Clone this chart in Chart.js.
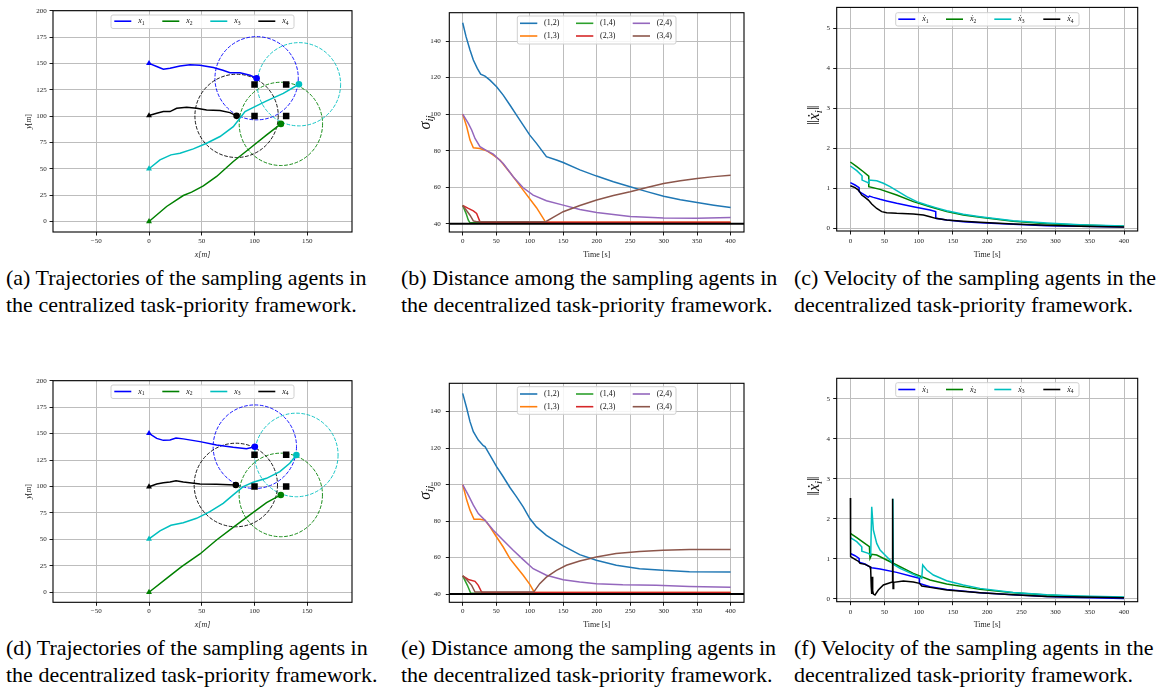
<!DOCTYPE html>
<html lang="en">
<head>
<meta charset="UTF-8">
<title>Sampling agents</title>
<script src="https://cdn.jsdelivr.net/npm/chart.js"></script>
<style>
  body { margin: 0; background: #fff; }
  .quadro { position: absolute; left: 0; top: 0; width: 1163px; height: 694px; overflow: hidden; background: #fff; }
  canvas { position: absolute; }
  .legenda { position: absolute; font-family: "Liberation Serif", "Times New Roman", serif; font-size: 22px; line-height: 26.5px; color: #000; white-space: nowrap; }
</style>
</head>
<body>
<div class="quadro">
  <canvas id="graf_a" width="390" height="262" style="left:0px;top:0px"></canvas>
  <canvas id="graf_b" width="390" height="262" style="left:390px;top:0px"></canvas>
  <canvas id="graf_c" width="383" height="262" style="left:780px;top:0px"></canvas>
  <canvas id="graf_d" width="390" height="262" style="left:0px;top:370px"></canvas>
  <canvas id="graf_e" width="390" height="262" style="left:390px;top:370px"></canvas>
  <canvas id="graf_f" width="383" height="262" style="left:780px;top:370px"></canvas>

  <div class="legenda" style="left:6px;top:265px">(a) Trajectories of the sampling agents in<br>the centralized task-priority framework.</div>
  <div class="legenda" style="left:401px;top:265px">(b) Distance among the sampling agents in<br>the decentralized task-priority framework.</div>
  <div class="legenda" style="left:794px;top:265px">(c) Velocity of the sampling agents in the<br>decentralized task-priority framework.</div>
  <div class="legenda" style="left:6px;top:635px">(d) Trajectories of the sampling agents in<br>the decentralized task-priority framework.</div>
  <div class="legenda" style="left:401px;top:635px">(e) Distance among the sampling agents in<br>the decentralized task-priority framework.</div>
  <div class="legenda" style="left:794px;top:635px">(f) Velocity of the sampling agents in the<br>decentralized task-priority framework.</div>
</div>

<script>
// ---- (a) trajetorias, framework centralizado ----
const a1x = [0, 7.3, 13.6, 19.9, 29.4, 38.8, 48.3, 61, 70, 76.7, 86.2, 95.7, 102];
const a1y = [150, 147, 144.4, 145.3, 147.5, 148.8, 148.2, 146, 143.5, 141.2, 141.2, 138.7, 135.9];
const a2x = [0, 16.7, 32.5, 40.4, 51.5, 64.1, 79.9, 95.7, 111.5, 125];
const a2y = [0, 14.2, 24.6, 27.8, 33.8, 42.7, 56.9, 69.5, 82.1, 92.6];
const a3x = [0, 10.4, 20.8, 29.4, 42, 54.6, 67.3, 79.9, 91, 100.4, 111.5, 127.3, 142.1];
const a3y = [50, 58.5, 63.2, 64.8, 68.9, 74.2, 80.6, 90, 104.3, 109, 114.4, 121.6, 130.2];
const a4x = [0, 7.3, 13.6, 19.9, 26.2, 35.7, 45.2, 54.6, 67.3, 76.7, 83];
const a4y = [100.5, 102.7, 104.3, 104.3, 107.4, 108.4, 107.4, 105.8, 105.2, 103.3, 100.2];

// ---- (d) trajetorias, framework descentralizado ----
const d1x = [0, 7.3, 13.6, 19.9, 25.6, 32.5, 48.3, 64, 79.8, 92.4, 100.3];
const d1y = [150.2, 145.5, 143.6, 144, 145.8, 145, 142.4, 139.2, 137, 135.7, 137.6];
const d2x = [0, 16.7, 30.9, 48.3, 64, 79.8, 95.6, 111.4, 124.9];
const d2y = [0, 13.2, 24.3, 36.2, 49.4, 61.4, 73.1, 84.7, 92];
const d3x = [0, 10.4, 20.8, 32.5, 45.1, 57.7, 70.3, 79.8, 89.3, 98.7, 111.4, 124, 133.4, 139.7];
const d3y = [50.4, 58, 63.3, 65.8, 69.9, 76.2, 84.1, 92, 99.8, 104, 107.7, 114, 121.9, 129.8];
const d4x = [0, 7.3, 13.6, 19.9, 25.6, 32.5, 48.3, 64, 82.3];
const d4y = [99.8, 102.4, 103.6, 104.3, 105.5, 104.3, 102.4, 102, 101.4];

const alvosX = [100, 130, 100, 130];
const alvosY = [130, 130, 100, 100];
const raioSensor = 39.5;

// ---- (b) distancias, sigma_ij ----
const b12t = [0, 5, 10.9, 15.9, 21.8, 26.8, 33.3, 40.7, 50.6, 60.5, 70.5, 80.4, 90.3, 100.2, 110.2, 125, 140, 150, 175, 200, 225, 250, 275, 300, 325, 350, 375, 400];
const b12v = [150, 142.4, 135.1, 129.6, 125, 121.9, 120.8, 118.6, 115, 110.4, 105, 99.5, 94, 88.5, 84, 76.7, 74.9, 73.5, 69.5, 66.1, 63, 60.3, 57.6, 55.1, 53.2, 51.7, 50.2, 48.9];
const b13t = [0, 6, 10.9, 15.9, 25.8, 35.7, 45.7, 55.6, 70.5, 90.3, 110.2, 122.6, 124, 400];
const b13v = [100, 93.1, 85.8, 81.6, 81.2, 80, 77.6, 74.9, 68.1, 58.4, 48.8, 41.6, 40.9, 40.9];
const b14t = [0, 5, 8.4, 11, 400];
const b14v = [50, 45.7, 42, 40.5, 40.5];
const b23t = [0, 8.4, 15.9, 20.8, 25.8, 28, 400];
const b23v = [50, 48.4, 47.1, 45.7, 41.1, 40.9, 40.9];
const b24t = [0, 8.4, 13.4, 18.4, 25.8, 35.7, 45.7, 60.5, 75.4, 90.3, 105.2, 125, 150, 175, 200, 250, 300, 350, 400];
const b24v = [100, 94.9, 91.3, 86.7, 82.2, 80, 78.1, 73, 65.7, 59.7, 55.7, 52.6, 50.2, 47.8, 46.2, 44, 43.1, 43, 43.5];
const b34t = [0, 6, 10.9, 15.9, 20.8, 124, 135, 150, 175, 200, 225, 250, 275, 300, 325, 350, 375, 400];
const b34v = [50, 47.1, 44.7, 41.6, 41.1, 41.1, 43.5, 46.6, 50, 53, 55.5, 57.5, 59.8, 62, 63.5, 64.8, 65.8, 66.6];

// ---- (e) distancias, descentralizado ----
const e12t = [0, 6, 10.9, 15.9, 23.3, 30.8, 33.3, 40.7, 50.6, 60.5, 70.5, 80.4, 90.3, 100.2, 110.2, 125, 150, 174.7, 199.5, 229.3, 264, 298.8, 338.5, 400];
const e12v = [150, 141.8, 134.5, 129, 124.4, 121.3, 120.8, 116.2, 109.8, 104.3, 98.4, 93.3, 87.8, 81.4, 76.8, 72.2, 66.4, 61.6, 58.5, 55.8, 53.9, 53, 52.3, 52.1];
const e13t = [0, 6, 10.9, 16.9, 25.8, 33.3, 40.7, 50.6, 60.5, 70.5, 80.4, 90.3, 100.2, 106, 108, 400];
const e13v = [100, 91.5, 86, 81, 81, 80.5, 76.8, 71.3, 65.8, 59.4, 54.8, 50.3, 45.3, 41.6, 40.9, 40.9];
const e14t = [0, 7, 12, 400];
const e14v = [50, 44.8, 40.5, 40.5];
const e23t = [0, 8.4, 18.4, 23.3, 28.3, 30, 400];
const e23v = [50, 48, 47, 44.8, 41.1, 40.9, 40.9];
const e24t = [0, 8.4, 15.9, 23.3, 33.3, 45.7, 60.5, 75.4, 90.3, 105.2, 125, 150, 174.7, 199.5, 239, 289, 338.5, 400];
const e24v = [100, 94.2, 88.7, 84.1, 80.5, 75, 69.5, 64, 58.9, 53.9, 50.3, 47.9, 46.6, 45.7, 45.1, 44.8, 44.2, 43.7];
const e34t = [0, 6, 13.4, 18.4, 106, 115, 125, 140, 154.8, 174.7, 199.5, 229, 264, 299, 338.5, 400];
const e34v = [50, 47.9, 44.8, 41.1, 41.1, 45.7, 49.3, 53, 55.8, 58.1, 60.3, 62.2, 63.3, 64, 64.4, 64.4];

const limiteX = [-20, 420];
const limiteY = [40, 40];

// ---- (c) velocidades, descentralizado ----
const c1t = [0, 6.8, 12.7, 12.8, 21.4, 26.3, 27.8, 33.6, 43.4, 53.1, 67.7, 92, 116.4, 124.7, 124.8, 140.8, 165, 189.5, 238, 287, 335.7, 400];
const c1v = [1.135, 1.077, 1.01, 0.91, 0.826, 0.768, 0.8, 0.768, 0.718, 0.676, 0.618, 0.534, 0.45, 0.41, 0.242, 0.2, 0.159, 0.134, 0.092, 0.058, 0.042, 0.025];
const c2t = [0, 9.3, 19, 26.8, 26.9, 43.4, 67.7, 92, 116.4, 140.8, 165, 189.5, 238, 287, 335.7, 400];
const c2v = [1.653, 1.536, 1.41, 1.3, 1.035, 0.968, 0.826, 0.66, 0.534, 0.41, 0.326, 0.267, 0.167, 0.108, 0.075, 0.042];
const c3t = [0, 9.3, 17, 17.1, 24.8, 26.8, 26.9, 38.5, 48.2, 58, 67.7, 82.3, 97, 111.6, 124.7, 140.8, 165, 189.5, 238, 287, 335.7, 400];
const c3v = [1.553, 1.436, 1.31, 1.2, 1.143, 1.12, 1.2, 1.185, 1.12, 1.035, 0.935, 0.785, 0.66, 0.576, 0.51, 0.434, 0.342, 0.284, 0.184, 0.125, 0.083, 0.05];
const c4t = [0, 6.8, 11.7, 14.1, 16.6, 21.4, 26.3, 31.2, 38.5, 45.8, 53.1, 67.7, 92, 106.7, 116.4, 124.7, 140.8, 165, 189.5, 238, 287, 335.7, 400];
const c4v = [1.06, 1.01, 0.95, 0.893, 0.826, 0.768, 0.7, 0.6, 0.49, 0.41, 0.384, 0.367, 0.35, 0.326, 0.284, 0.242, 0.2, 0.167, 0.142, 0.1, 0.067, 0.042, 0.025];

// ---- (f) velocidades, descentralizado ----
const f1t = [0, 6.8, 12.7, 12.8, 21.4, 27.8, 31.2, 43.4, 67.7, 92, 100.9, 101, 116.4, 140.8, 189.5, 238, 287, 335.7, 400];
const f1v = [1.13, 1.075, 1.01, 0.91, 0.867, 0.8, 0.775, 0.742, 0.658, 0.55, 0.508, 0.383, 0.3, 0.233, 0.15, 0.1, 0.058, 0.033, 0.008];
const f2t = [0, 9.3, 19, 27.8, 28.7, 31.2, 38.5, 53.1, 67.7, 92, 116.4, 140.8, 189.5, 238, 287, 335.7, 400];
const f2v = [1.633, 1.525, 1.41, 1.3, 1.01, 1.108, 1.09, 0.967, 0.842, 0.633, 0.467, 0.367, 0.233, 0.15, 0.092, 0.058, 0.033];
const f3t = [0, 9.3, 16.6, 16.7, 26.3, 29.7, 31.2, 33.6, 38.5, 43.4, 53.1, 60.4, 61.8, 62.2, 62.6, 72.6, 92, 104.3, 105.7, 111.6, 121.3, 140.8, 165, 189.5, 238, 287, 335.7, 400];
const f3v = [1.525, 1.425, 1.3, 1.19, 1.133, 1.09, 2.3, 1.717, 1.383, 1.217, 1.05, 0.925, 0.87, 2.5, 0.86, 0.758, 0.608, 0.508, 0.842, 0.717, 0.592, 0.45, 0.342, 0.258, 0.158, 0.1, 0.067, 0.042];
const f4t = [0, 0.3, 6.8, 12.7, 14.1, 21.4, 28.7, 29.7, 30.5, 31.2, 32, 32.6, 33.6, 36, 40.9, 48.2, 58, 61.2, 61.5, 61.9, 62.4, 63.3, 77.5, 92, 101, 104.3, 116.4, 140.8, 189.5, 238, 287, 335.7, 400];
const f4v = [2.52, 1.05, 0.983, 0.925, 0.883, 0.858, 0.8, 0.717, 0.3, 0.117, 0.55, 0.2, 0.117, 0.092, 0.217, 0.342, 0.4, 0.417, 2.5, 2.45, 0.258, 0.408, 0.442, 0.417, 0.383, 0.317, 0.283, 0.217, 0.15, 0.1, 0.058, 0.042, 0.025];

// ---- eixos ----
const ticksXTraj = [-50, 0, 50, 100, 150];
const ticksYTraj = [0, 25, 50, 75, 100, 125, 150, 175, 200];
const ticksTempo = [0, 50, 100, 150, 200, 250, 300, 350, 400];
const ticksSigma = [40, 60, 80, 100, 120, 140];
const ticksVel = [0, 1, 2, 3, 4, 5];

const corAgente = ['#0000ff', '#008000', '#00bfbf', '#000000'];
const corPar = ['#1f77b4', '#ff7f0e', '#2ca02c', '#d62728', '#9467bd', '#8c564b'];
const nomesPar = ['(1,2)', '(1,3)', '(1,4)', '(2,3)', '(2,4)', '(3,4)'];

const SERIF = '"Liberation Serif", "DejaVu Serif", serif';
const extras = {};

function pts(xs, ys) {
    return xs.map((v, i) => ({ x: v, y: ys[i] }));
}

function linha(dados, cor, largura) {
    return { data: dados, showLine: true, borderColor: cor, backgroundColor: cor, borderWidth: largura || 1.5, pointRadius: 0, tension: 0 };
}

function fonteParte(p, tam) {
    const s = p.sub ? tam * 0.7 : tam;
    return (p.it ? 'italic ' : '') + s + 'px ' + SERIF;
}

function textoRico(ctx, partes, x, y, tam, alinhamento) {
    let total = 0;
    const larguras = partes.map(p => {
        ctx.font = fonteParte(p, tam);
        const w = ctx.measureText(p.t).width;
        total += w;
        return w;
    });
    let cx = alinhamento === 'center' ? x - total / 2 : x;
    ctx.textAlign = 'left';
    ctx.textBaseline = 'middle';
    partes.forEach((p, i) => {
        ctx.font = fonteParte(p, tam);
        ctx.fillText(p.t, cx, p.sub ? y + tam * 0.28 : y);
        cx += larguras[i];
    });
}

const pluginMpl = {
    id: 'mpl',
    beforeDatasetsDraw(chart) {
        const ex = extras[chart.canvas.id];
        if (!ex || !ex.circulos) return;
        const { ctx, chartArea: a } = chart;
        const sx = chart.scales.x, sy = chart.scales.y;
        ctx.save();
        ctx.beginPath();
        ctx.rect(a.left, a.top, a.right - a.left, a.bottom - a.top);
        ctx.clip();
        ex.circulos.forEach(c => {
            const cx = sx.getPixelForValue(c.x), cy = sy.getPixelForValue(c.y);
            const rx = Math.abs(sx.getPixelForValue(c.x + c.r) - cx);
            const ry = Math.abs(sy.getPixelForValue(c.y + c.r) - cy);
            ctx.beginPath();
            ctx.setLineDash([3.7, 1.6]);
            ctx.strokeStyle = c.cor;
            ctx.lineWidth = 0.9;
            ctx.ellipse(cx, cy, rx, ry, 0, 0, Math.PI * 2);
            ctx.stroke();
        });
        ctx.restore();
    },
    afterDraw(chart) {
        const ex = extras[chart.canvas.id];
        const { ctx, chartArea: a } = chart;
        ctx.save();
        ctx.strokeStyle = '#000';
        ctx.lineWidth = 1.1;
        ctx.strokeRect(a.left, a.top, a.right - a.left, a.bottom - a.top);

        if (ex && ex.legenda) {
            const lg = ex.legenda;
            const [l, t, w, h] = lg.caixa;
            ctx.fillStyle = 'rgba(255,255,255,0.85)';
            ctx.strokeStyle = '#d0d0d0';
            ctx.lineWidth = 1;
            ctx.beginPath();
            if (ctx.roundRect) ctx.roundRect(l, t, w, h, 2); else ctx.rect(l, t, w, h);
            ctx.fill();
            ctx.stroke();
            lg.itens.forEach(it => {
                ctx.strokeStyle = it.cor;
                ctx.lineWidth = 1.6;
                ctx.beginPath();
                ctx.moveTo(it.x, it.y);
                ctx.lineTo(it.x + lg.alca, it.y);
                ctx.stroke();
                ctx.fillStyle = '#111';
                textoRico(ctx, it.texto, it.x + lg.alca + lg.vao, it.y, lg.tam, 'left');
            });
        }

        if (ex && ex.tituloY) {
            const ty = ex.tituloY;
            ctx.fillStyle = '#111';
            ctx.translate(ty.x, (a.top + a.bottom) / 2 + (ty.dy || 0));
            ctx.rotate(-Math.PI / 2);
            textoRico(ctx, ty.partes, 0, 0, ty.tam, 'center');
        }
        ctx.restore();
    }
};

function rotuloTick(v) {
    return v < 0 ? '\u2212' + (-v) : String(v);
}

function montarGrafico(id, conf) {
    const canvas = document.getElementById(id);
    const [esq, topo, dir, base] = conf.area;
    conf.datasets.forEach((d, i) => { d.order = -i; });
    extras[id] = conf.extras;

    const grade = { color: '#bdbdbd', lineWidth: 1, drawTicks: true, tickLength: 3.5, tickColor: '#000', tickWidth: 0.9 };
    const fonteTick = { family: SERIF, size: 7 };

    return new Chart(canvas, {
        type: 'scatter',
        data: { datasets: conf.datasets },
        options: {
            responsive: false,
            animation: false,
            events: [],
            layout: { padding: { left: 0, top: topo, right: canvas.width - dir, bottom: 0 } },
            plugins: { legend: { display: false }, tooltip: { enabled: false } },
            scales: {
                x: {
                    type: 'linear',
                    min: conf.xLim[0],
                    max: conf.xLim[1],
                    afterBuildTicks: s => { s.ticks = conf.xTicks.map(v => ({ value: v })); },
                    afterFit: s => { s.height = canvas.height - base; },
                    grid: grade,
                    border: { display: false },
                    ticks: { font: fonteTick, color: '#222', padding: conf.padTickX, maxRotation: 0, autoSkip: false, callback: rotuloTick },
                    title: { display: true, text: conf.xTitulo, color: '#222', font: { family: SERIF, size: 8, style: conf.xItalico ? 'italic' : 'normal' }, padding: { top: 0, bottom: 2.5 } }
                },
                y: {
                    type: 'linear',
                    min: conf.yLim[0],
                    max: conf.yLim[1],
                    afterBuildTicks: s => { s.ticks = conf.yTicks.map(v => ({ value: v })); },
                    afterFit: s => { s.width = esq; },
                    grid: grade,
                    border: { display: false },
                    ticks: { font: fonteTick, color: '#222', padding: conf.padTickY, autoSkip: false, callback: rotuloTick },
                    title: { display: false }
                }
            }
        },
        plugins: [pluginMpl]
    });
}

function legendaAgentes(caixa, xs, y, comPonto) {
    return {
        caixa: caixa, alca: 17, vao: 7, tam: 8,
        itens: corAgente.map((c, i) => ({
            x: xs[i], y: y, cor: c,
            texto: [{ t: comPonto ? '\u1E8B' : 'x', it: true }, { t: String(i + 1), sub: true }]
        }))
    };
}

function legendaPares(caixa, colunas, linhas) {
    return {
        caixa: caixa, alca: 17.3, vao: 6.7, tam: 8,
        itens: nomesPar.map((n, i) => ({
            x: colunas[Math.floor(i / 2)], y: linhas[i % 2], cor: corPar[i],
            texto: [{ t: n }]
        }))
    };
}

function graficoTrajetoria(id, trajs, area, yMin, legendaY) {
    const ds = trajs.map((t, i) => linha(pts(t[0], t[1]), corAgente[i], 1.5));
    const inicio = trajs.map(t => ({ x: t[0][0], y: t[1][0] }));
    const fim = trajs.map(t => ({ x: t[0][t[0].length - 1], y: t[1][t[1].length - 1] }));
    ds.push({ data: inicio, showLine: false, pointStyle: 'triangle', pointRadius: 3.4, pointBorderWidth: 0, pointBackgroundColor: corAgente, pointBorderColor: corAgente });
    ds.push({ data: fim, showLine: false, pointStyle: 'circle', pointRadius: 3.3, pointBorderWidth: 0, pointBackgroundColor: corAgente, pointBorderColor: corAgente });
    ds.push({ data: pts(alvosX, alvosY), showLine: false, pointStyle: 'rect', pointRadius: 4.6, pointBorderWidth: 0, pointBackgroundColor: '#000', pointBorderColor: '#000' });

    montarGrafico(id, {
        datasets: ds,
        area: area,
        xLim: [-91, 192.4], yLim: [yMin, 200],
        xTicks: ticksXTraj, yTicks: ticksYTraj,
        padTickX: 1.3, padTickY: 2.8,
        xTitulo: 'x[m]', xItalico: true,
        extras: {
            circulos: fim.map((p, i) => ({ x: p.x, y: p.y, r: raioSensor, cor: corAgente[i] })),
            legenda: legendaAgentes([111, 15, 183, 13.5], [114.3, 162.3, 210.3, 258.3], legendaY, false),
            tituloY: { x: 29, tam: 8, partes: [{ t: 'y', it: true }, { t: '[' }, { t: 'm', it: true }, { t: ']' }] }
        }
    });
}

function graficoDistancia(id, series, area, caixa, linhas) {
    const ds = series.map((s, i) => linha(pts(s[0], s[1]), corPar[i], 1.5));
    ds.push(linha(pts(limiteX, limiteY), '#000', 2));
    montarGrafico(id, {
        datasets: ds,
        area: area,
        xLim: [-20, 420], yLim: [35.5, 155.5],
        xTicks: ticksTempo, yTicks: ticksSigma,
        padTickX: 1.3, padTickY: 5,
        xTitulo: 'Time [s]', xItalico: false,
        extras: {
            legenda: legendaPares(caixa, [130, 186, 242.7], linhas),
            tituloY: { x: 35.5, tam: 16, partes: [{ t: '\u03C3', it: true }, { t: 'ij', it: true, sub: true }] }
        }
    });
}

function graficoVelocidade(id, series, area, yLim, caixa, legendaY) {
    const ds = series.map((s, i) => linha(pts(s[0], s[1]), corAgente[i], 1.5));
    montarGrafico(id, {
        datasets: ds,
        area: area,
        xLim: [-20, 420], yLim: yLim,
        xTicks: ticksTempo, yTicks: ticksVel,
        padTickX: 2.3, padTickY: 3.2,
        xTitulo: 'Time [s]', xItalico: false,
        extras: {
            legenda: legendaAgentes(caixa, [118.3, 166, 214.3, 263.3], legendaY, true),
            tituloY: { x: 34.5, dy: -4, tam: 16, partes: [{ t: '\u2016' }, { t: '\u1E8B', it: true }, { t: 'i', it: true, sub: true }, { t: '\u2016' }] }
        }
    });
}

window.onload = () => {
    graficoTrajetoria('graf_a', [[a1x, a1y], [a2x, a2y], [a3x, a3y], [a4x, a4y]], [53, 10.7, 352, 232], -10, 21.2);
    graficoTrajetoria('graf_d', [[d1x, d1y], [d2x, d2y], [d3x, d3y], [d4x, d4y]], [53, 10.7, 352, 232.3], -9.5, 21.5);

    graficoDistancia('graf_b', [[b12t, b12v], [b13t, b13v], [b14t, b14v], [b23t, b23v], [b24t, b24v], [b34t, b34v]],
        [59.3, 12.7, 354, 232], [127.3, 16, 158.7, 28], [23.3, 36]);
    graficoDistancia('graf_e', [[e12t, e12v], [e13t, e13v], [e14t, e14v], [e23t, e23v], [e24t, e24v], [e34t, e34v]],
        [59.3, 13.3, 354, 232.3], [127.3, 16.7, 158.7, 27.6], [24, 36.7]);

    graficoVelocidade('graf_c', [[c1t, c1v], [c2t, c2v], [c3t, c3v], [c4t, c4v]],
        [56.7, 7.3, 357.7, 231], [-0.075, 5.526], [115.7, 12.7, 183.3, 13.3], 19.2);
    graficoVelocidade('graf_f', [[f1t, f1v], [f2t, f2v], [f3t, f3v], [f4t, f4v]],
        [56.7, 8.3, 357.7, 231.7], [-0.075, 5.51], [115.7, 12.7, 183.3, 14], 19.5);
};
</script>
</body>
</html>
